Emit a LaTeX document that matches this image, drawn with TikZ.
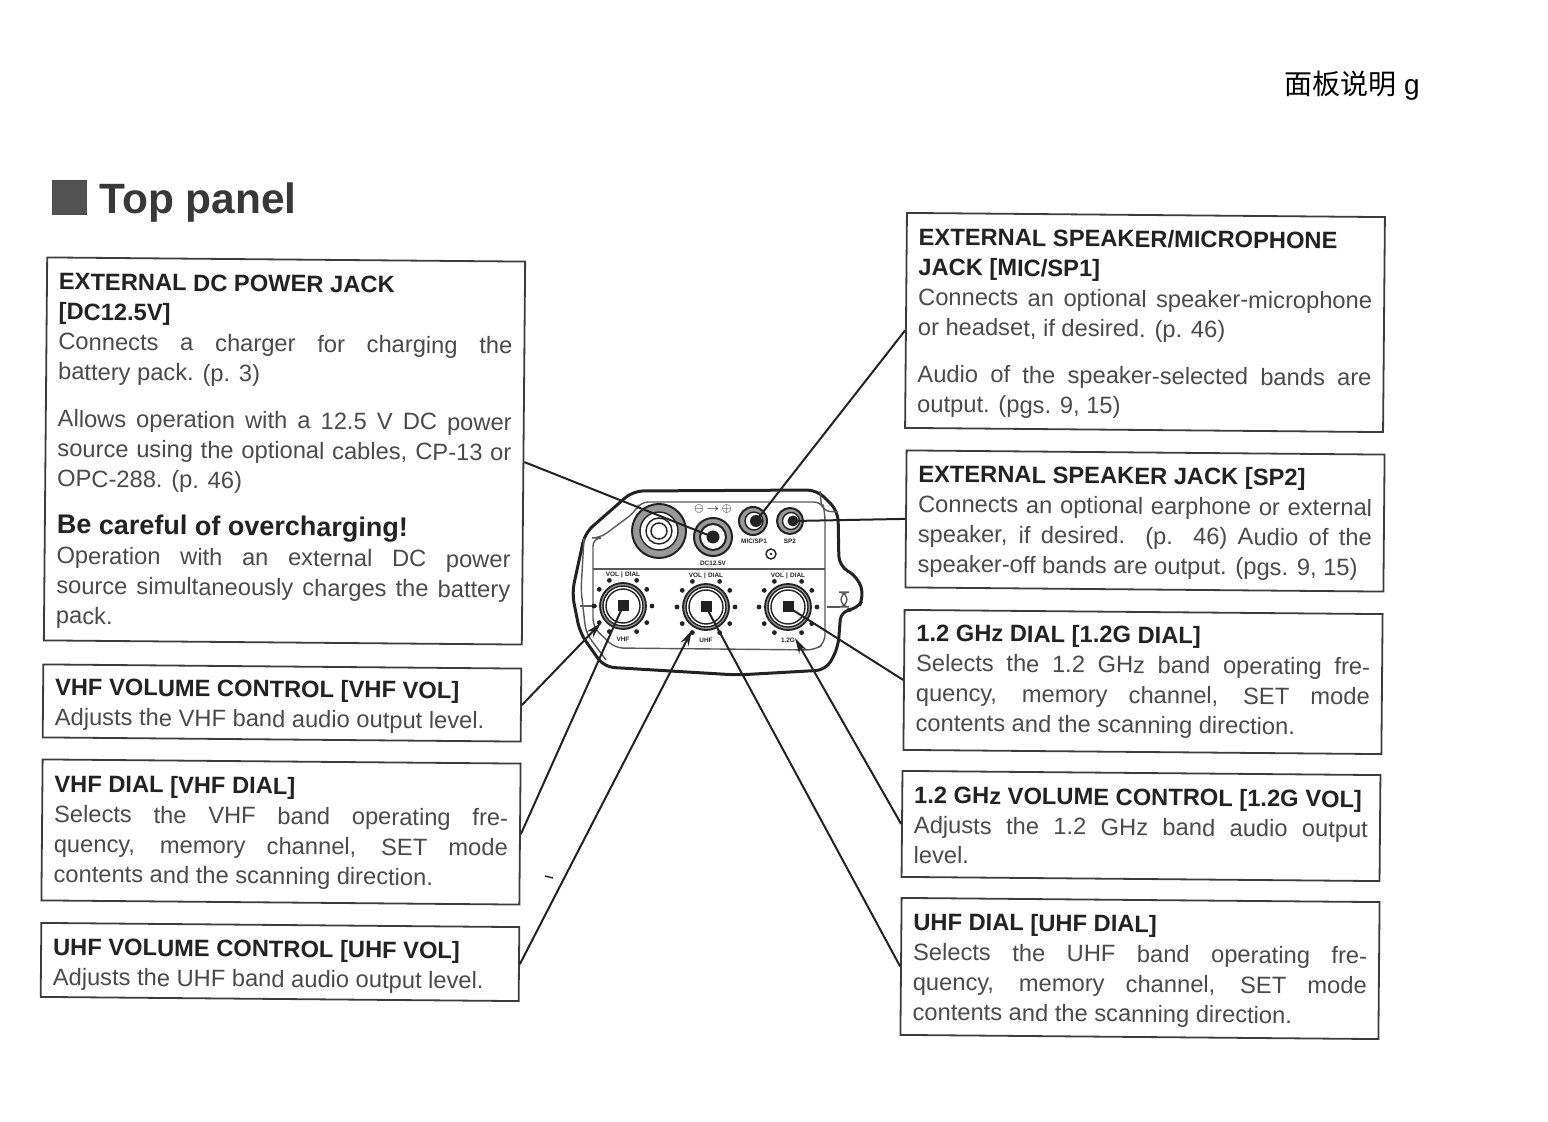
\documentclass[tikz,border=0pt]{standalone}
\usepackage{fontspec}
\setmainfont{Liberation Sans}
\newfontfamily\cjk{Noto Sans CJK SC}
\usetikzlibrary{arrows.meta,calc}
\definecolor{ink}{HTML}{222222}
\definecolor{frame}{HTML}{3C3C3C}
\definecolor{label}{HTML}{4A4A4A}
\newcommand{\gap}{\par\vspace{8.5pt}}
\newcommand{\nudge}[1]{\par\vspace{-#1}}
\newcommand{\hd}[1]{{\bfseries\color{ink}#1}}
\begin{document}
\begin{tikzpicture}[
    x=0.5pt,y=-0.5pt,
    info/.style={rectangle,draw=frame,line width=0.9pt,rotate=-0.5,inner xsep=6pt,inner ysep=0pt,text width=227pt,align=justify,text=label,font=\fontsize{11.85}{15}\selectfont,minimum width=239pt},
    lead/.style={draw=ink,line width=1pt},
    arr/.style={lead,-{Stealth[length=2.8mm,width=1.5mm]}},
    body/.style={draw=ink,line width=1.5pt,rounded corners=5pt},
    trim/.style={draw=ink!75,line width=0.7pt,rounded corners=4pt},
    knob/.style={circle,draw=ink,line width=0.9pt,minimum size=23pt,inner sep=0pt,fill=black!40},
    ring/.style={circle,draw=ink,line width=0.7pt,inner sep=0pt,fill=white},
    band/.style={ring,fill=black!40,line width=1pt},
    pin/.style={circle,fill=ink,inner sep=0pt},
    tinytxt/.style={font=\fontsize{3.2}{3.2}\selectfont\bfseries,text=ink,inner sep=0pt},
]
\useasboundingbox (0,0) rectangle (1548,1122);

% Page mark and title
\node[font=\fontsize{14}{16}\selectfont,text=black,anchor=west,inner sep=0pt] (pagemark) at (1284,86) {{\cjk 面板说明} g};
\node[rectangle,draw=black!70,fill=black!68,minimum size=17pt,inner sep=0pt] (titlebox) at (69,197) {};
\node[font=\fontsize{21.2}{24}\selectfont\bfseries,text=ink!90,anchor=west,inner sep=0pt] (title) at (99,203) {Top panel};

% Left boxes
\node[info,minimum height=191.5pt] (dcbox) at (284.5,451) {\hd{EXTERNAL DC POWER JACK}\\ \hd{[DC12.5V]}\\ Connects a charger for charging the\linebreak battery pack. (p. 3)\gap Allows operation with a 12.5 V DC power\linebreak source using the optional cables, CP-13 or\linebreak OPC-288. (p. 46)\gap {\fontsize{13.5}{15}\selectfont\hd{Be careful of overcharging!}}\\ Operation with an external DC power\linebreak source simultaneously charges the battery\linebreak pack.\nudge{2pt}};
\node[info,minimum height=36.5pt] (vhfvolbox) at (282,703) {\hd{VHF VOLUME CONTROL [VHF VOL]}\\ Adjusts the VHF band audio output level.\nudge{3pt}};
\node[info,minimum height=70.5pt] (vhfdialbox) at (281,832) {\hd{VHF DIAL [VHF DIAL]}\\ Selects the VHF band operating fre-\linebreak quency, memory channel, SET mode\linebreak contents and the scanning direction.\nudge{1pt}};
\node[info,minimum height=37pt] (uhfvolbox) at (280,962) {\hd{UHF VOLUME CONTROL [UHF VOL]}\\ Adjusts the UHF band audio output level.\nudge{4pt}};

% Right boxes
\node[info,minimum height=107.5pt] (micbox) at (1145,322.5) {\hd{EXTERNAL SPEAKER/MICROPHONE}\\ \hd{JACK [MIC/SP1]}\\ Connects an optional speaker-microphone\linebreak or headset, if desired. (p. 46)\gap Audio of the speaker-selected bands are\linebreak output. (pgs. 9, 15)\nudge{2pt}};
\node[info,minimum height=68.5pt] (spbox) at (1145,521) {\hd{EXTERNAL SPEAKER JACK [SP2]}\\ Connects an optional earphone or external\linebreak speaker, if desired. (p. 46) Audio of the\linebreak speaker-off bands are output. (pgs. 9, 15)\nudge{2pt}};
\node[info,minimum height=70pt] (gdialbox) at (1143,682) {\hd{1.2 GHz DIAL [1.2G DIAL]}\\ Selects the 1.2 GHz band operating fre-\linebreak quency, memory channel, SET mode\linebreak contents and the scanning direction.};
\node[info,minimum height=53pt] (gvolbox) at (1141,826) {\hd{1.2 GHz VOLUME CONTROL [1.2G VOL]}\\ Adjusts the 1.2 GHz band audio output\linebreak level.\nudge{1pt}};
\node[info,minimum height=68.5pt] (udialbox) at (1140,968.5) {\hd{UHF DIAL [UHF DIAL]}\\ Selects the UHF band operating fre-\linebreak quency, memory channel, SET mode\linebreak contents and the scanning direction.\nudge{2.5pt}};

% Radio body
\draw[body] (585,533) -- (633,491) -- (817,490) -- (838,511) -- (839,566) -- (858,577) -- (864,597) -- (857,610) -- (841,610) -- (838,648) -- (826,670) -- (737,675) -- (604,667) -- (580,633) -- (572,593) -- cycle;
\draw[trim] (600,538) -- (635,512) -- (640,502) -- (822,502) -- (825,512) -- (825,643) -- (815,650) -- (615,648) -- (593,627) -- (593,538) -- cycle;
\draw[trim] (593,569) -- (825,569);
\draw[trim] (820,491) -- (822,511) -- (838,512);
\draw[trim] (584,538) -- (581,590) -- (586,633) -- (606,660);
\draw[trim] (841,592) rectangle (847,607);
\draw[trim] (580,606) -- (597,606);
\draw[trim] (827,607) -- (840,607);

% Jacks
\node[band,minimum size=27pt] (bnc) at (659,531) {};
\node[ring,minimum size=19pt] (bnca) at (659,531) {};
\node[ring,minimum size=13pt] (bncb) at (659,531) {};
\node[ring,minimum size=8pt] (bncc) at (659,531) {};
\node[band,minimum size=19pt] (dcouter) at (713,537) {};
\node[ring,line width=1pt,minimum size=13pt] (dcjack) at (713,537) {};
\node[pin,minimum size=6.5pt] (dcpin) at (713,537) {};
\node[band,minimum size=14pt] (micouter) at (753,521) {};
\node[ring,minimum size=9pt] (micring) at (754,521) {};
\node[pin,minimum size=6pt] (micjack) at (756,521) {};
\node[band,minimum size=13pt] (spouter) at (790,521) {};
\node[ring,minimum size=8.5pt] (spring) at (791,521) {};
\node[pin,minimum size=5.5pt] (spjack) at (793,521) {};
\node[ring,minimum size=5pt] (screw) at (771,554) {};
\node[pin,minimum size=1.3pt] (screwpin) at (771,554) {};
\node[tinytxt] (dclabel) at (713,563) {DC12.5V};
\node[tinytxt] (miclabel) at (754,541) {MIC/SP1};
\node[tinytxt] (splabel) at (790,541) {SP2};
\node[tinytxt] (polarity) at (713,509) {$\ominus\!\to\!\oplus$};

% Knobs
\foreach \name/\px/\py/\tag in {vhfdial/623/606/VHF,uhfdial/706/607/UHF,gdial/788/607/1.2G}{
  \node[knob] (\name) at (\px,\py) {};
  \node[ring,minimum size=20pt] at (\px,\py) {};
  \node[ring,minimum size=17pt] at (\px,\py) {};
  \node[rectangle,fill=ink,minimum size=5.5pt,inner sep=0pt] at (\px,\py) {};
  \node[tinytxt] at (\px,\py-31) {VOL\,\,\textbar\,\,DIAL};
  \node[tinytxt] at (\px,\py+33) {\tag};
  \foreach \a in {-145,-118,-62,-35,0,35,62,118,145,180}
    \fill[ink] (\px,\py) ++(\a:29) circle (1.2pt);
}

% Leaders
\draw[lead] ([yshift=-4.5pt]dcbox.east) -- (dcjack.center);
\draw[lead] ([yshift=-5pt]micbox.west) -- (micjack.center);
\draw[lead] (spbox.west) -- (spjack.center);
\draw[arr] (vhfvolbox.east) -- (601,623);
\draw[lead] (vhfdialbox.east) -- (vhfdial.center);
\draw[arr] (uhfvolbox.east) -- (692,630);
\draw[lead] (gdialbox.west) -- (gdial.center);
\draw[arr] (gvolbox.west) -- (795,638);
\draw[lead] (udialbox.west) -- (uhfdial.center);

% Scan speck
\draw[ink,line width=0.7pt] (545,876) -- (553,878);
\end{tikzpicture}
\end{document}
